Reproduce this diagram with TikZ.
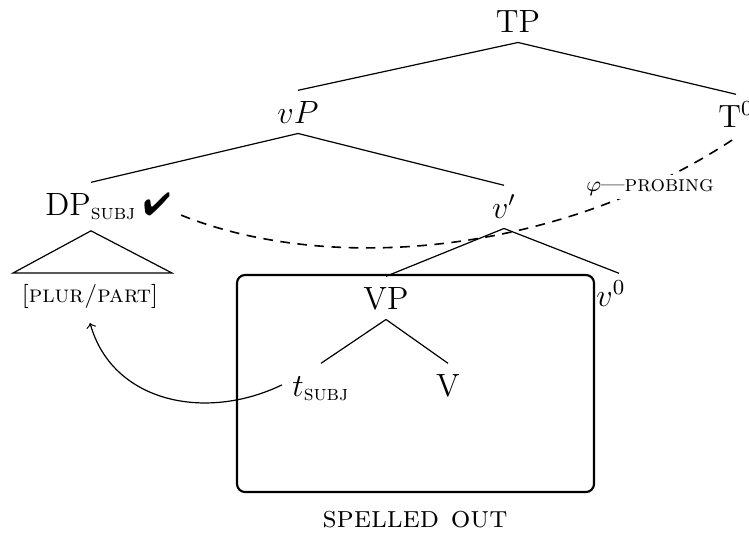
\documentclass[tikz,border=0pt]{standalone}
\usepackage{amsmath}
\usepackage{pifont}
\begin{document}
\begin{tikzpicture}[x=0.373pt,y=-0.373pt]
\tikzset{
  tn/.style={font=\large, inner sep=3.7pt, text height=8.3pt, text depth=0pt, anchor=base},
  edge/.style={line width=0.45pt},
  probe/.style={line width=0.6pt, dash pattern=on 3.6pt off 2.8pt},
  spellbox/.style={line width=0.8pt, rounded corners=3pt},
}
\useasboundingbox (0,0) rectangle (749,532);
% tree nodes
\node[tn] (TP) at (518,32) {TP};
\node[tn] (vP) at (298,123) {$vP$};
\node[tn] (T0) at (736,127) {T$^0$};
\node[tn] (DP) at (91,215) {DP$_{\text{\textsc{subj}}}$};
\node[tn] (chk) at (157,215) {\ding{52}};
\node[tn] (vbar) at (504,218) {$v'$};
\node[tn] (VP) at (386,309) {VP};
\node[tn] (v0) at (611,306) {$v^0$};
\node[tn] (t) at (321,396) {$t_{\text{\textsc{subj}}}$};
\node[tn] (V) at (448,396) {V};
\node[font=\small, anchor=base] (plur) at (90,302) {[\textsc{plur/part}]};
\node[font=\fontsize{11.5}{14}\selectfont, anchor=base] (spell) at (415,527) {\textsc{spelled out}};
% tree edges
\draw[edge] (TP.south) -- (vP.north);
\draw[edge] (TP.south) -- (T0.north);
\draw[edge] (vP.south) -- (DP.north);
\draw[edge] (vP.south) -- (vbar.north);
\draw[edge] (vbar.south) -- (VP.north);
\draw[edge] (vbar.south) -- ([xshift=3pt]v0.north);
\draw[edge] (VP.south) -- (t.north);
\draw[edge] (VP.south) -- (V.north);
% triangle
\coordinate (triL) at (13,273);
\coordinate (triR) at (172,273);
\draw[edge] (triL) -- ([yshift=-2pt]DP.south) -- (triR) -- cycle;
% spelled-out box
\draw[spellbox] (237,275) rectangle (594,492);
% probing dependency
\draw[probe] (chk.-25) .. controls (330,275) and (560,255) .. (T0.south);
\node[font=\fontsize{8.5}{10}\selectfont, fill=white, anchor=base, inner sep=1.5pt] (probe) at (650,191) {$\varphi$---\textsc{probing}};
% movement arrow
\draw[edge, ->] (t.west) .. controls (205,422) and (112,402) .. ([yshift=-2pt]plur.south);
\end{tikzpicture}
\end{document}
